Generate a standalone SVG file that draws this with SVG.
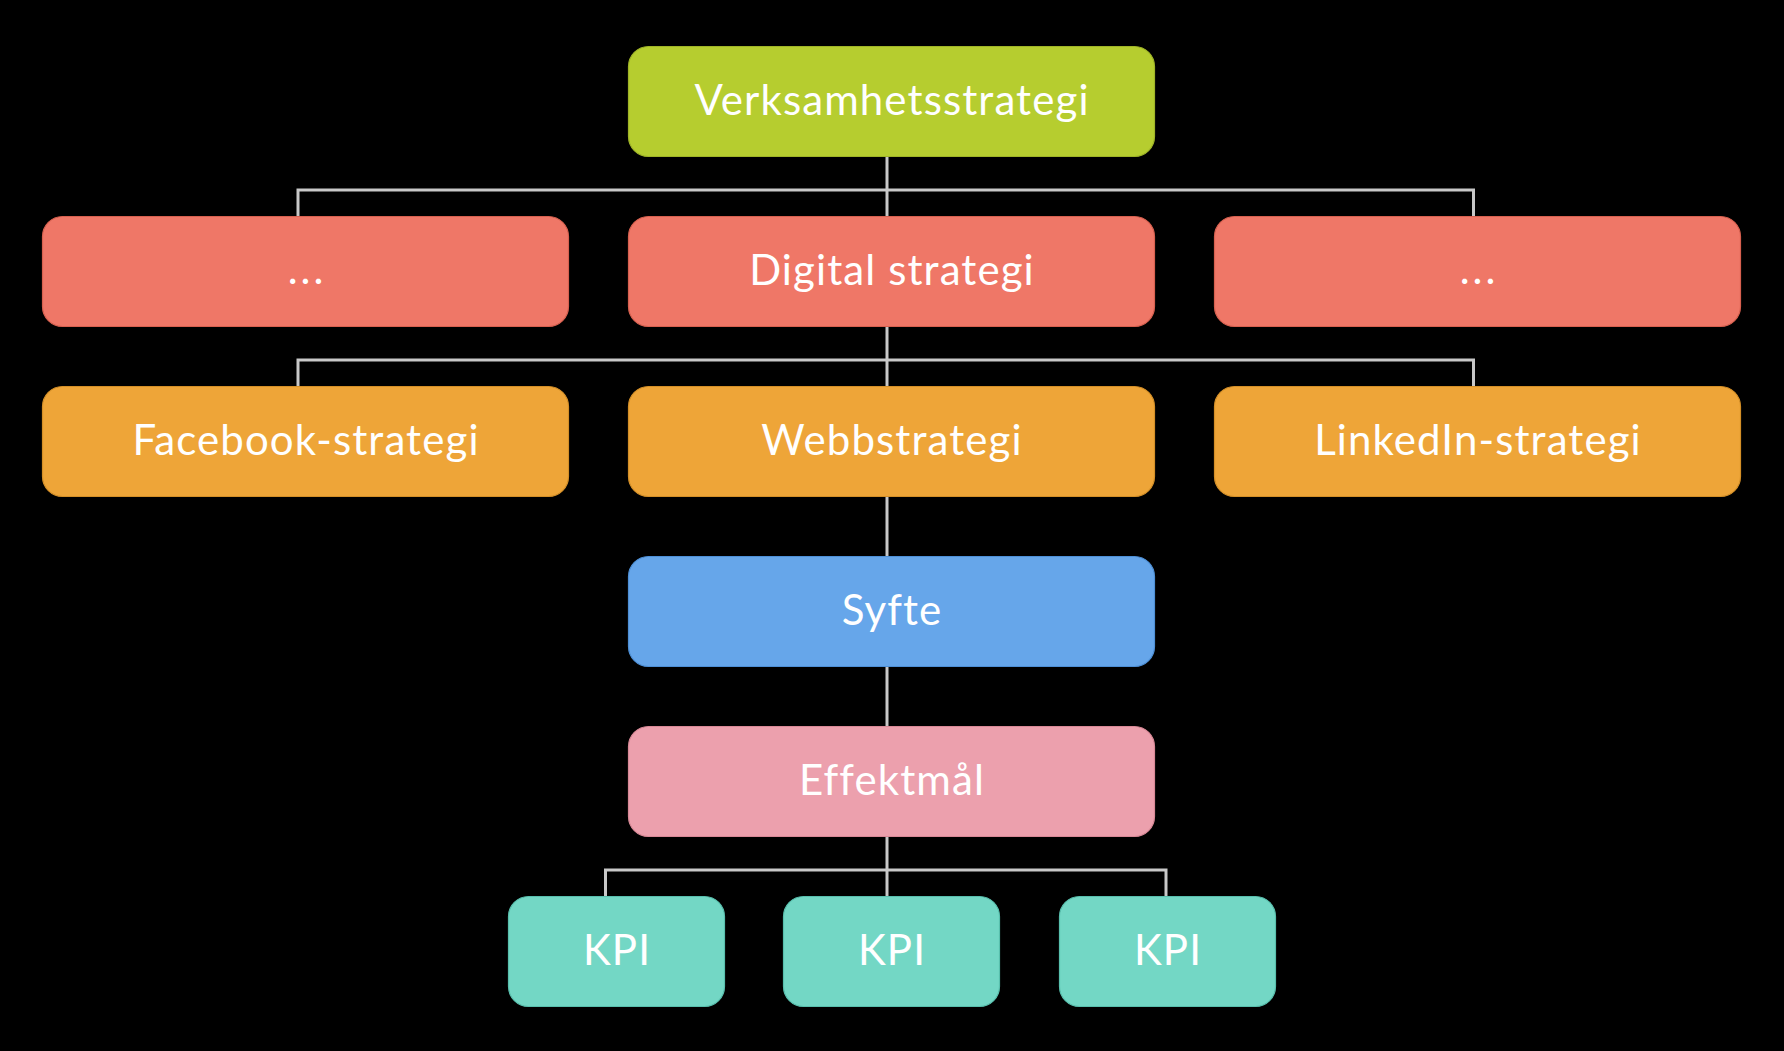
<svg xmlns="http://www.w3.org/2000/svg" width="1784" height="1051" viewBox="0 0 1784 1051">
<style>
.bg{fill:#000}
.box{stroke-width:1.2}
.lbl{font-family:Lato,"Open Sans","Liberation Sans",sans-serif;font-size:42px;letter-spacing:1.1px;fill:#fff;text-anchor:middle}
.dots{letter-spacing:3px}
.c{fill:none;stroke:#c8c8c8;stroke-width:3}
.g{fill:#b6cd2f;stroke:#9fb427}
.r{fill:#ef7767;stroke:#d7604f}
.o{fill:#eea538;stroke:#d48f27}
.b{fill:#66a6ea;stroke:#4d8fd6}
.p{fill:#eca0ad;stroke:#d88896}
.t{fill:#73d7c5;stroke:#58bfad}
</style>
<rect class="bg" x="0" y="0" width="1784" height="1051"/>
<g id="connectors">
<path class="c" d="M887 156V216M298 216V190H1473.5V216"/>
<path class="c" d="M887 326V386M298 386V360H1473.5V386"/>
<path class="c" d="M887 496V556"/>
<path class="c" d="M887 666V726"/>
<path class="c" d="M887 836V896M605.5 896V870H1166V896"/>
</g>
<g id="n-verksamhet"><rect class="box g" x="628.5" y="46.5" width="526" height="110" rx="20"/><text class="lbl" x="892" y="115">Verksamhetsstrategi</text></g>
<g id="n-dots-left"><rect class="box r" x="42.5" y="216.5" width="526" height="110" rx="20"/><text class="lbl dots" x="307" y="284">...</text></g>
<g id="n-digital"><rect class="box r" x="628.5" y="216.5" width="526" height="110" rx="20"/><text class="lbl" x="892" y="285">Digital strategi</text></g>
<g id="n-dots-right"><rect class="box r" x="1214.5" y="216.5" width="526" height="110" rx="20"/><text class="lbl dots" x="1479" y="284">...</text></g>
<g id="n-facebook"><rect class="box o" x="42.5" y="386.5" width="526" height="110" rx="20"/><text class="lbl" x="306" y="455">Facebook-strategi</text></g>
<g id="n-webb"><rect class="box o" x="628.5" y="386.5" width="526" height="110" rx="20"/><text class="lbl" x="892" y="455">Webbstrategi</text></g>
<g id="n-linkedin"><rect class="box o" x="1214.5" y="386.5" width="526" height="110" rx="20"/><text class="lbl" x="1478" y="455">LinkedIn-strategi</text></g>
<g id="n-syfte"><rect class="box b" x="628.5" y="556.5" width="526" height="110" rx="20"/><text class="lbl" x="892" y="625">Syfte</text></g>
<g id="n-effektmal"><rect class="box p" x="628.5" y="726.5" width="526" height="110" rx="20"/><text class="lbl" x="892" y="795">Effektmål</text></g>
<g id="n-kpi1"><rect class="box t" x="508.5" y="896.5" width="216" height="110" rx="20"/><text class="lbl" x="617" y="965">KPI</text></g>
<g id="n-kpi2"><rect class="box t" x="783.5" y="896.5" width="216" height="110" rx="20"/><text class="lbl" x="892" y="965">KPI</text></g>
<g id="n-kpi3"><rect class="box t" x="1059.5" y="896.5" width="216" height="110" rx="20"/><text class="lbl" x="1168" y="965">KPI</text></g>
</svg>
